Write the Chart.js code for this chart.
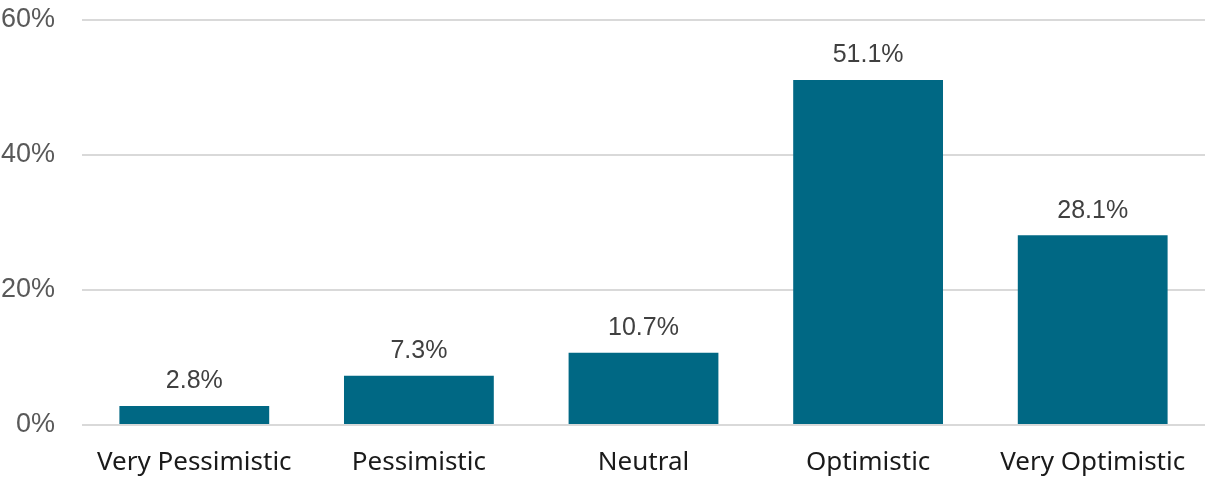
<!DOCTYPE html>
<html>
<head>
<meta charset="utf-8">
<script src="https://cdn.jsdelivr.net/npm/chart.js@4"></script>
<style>
  body { margin: 0; background: #fff; }
  #wrap { width: 1205px; height: 477px; position: relative; }
</style>
</head>
<body>
<div id="wrap"><canvas id="myChart"></canvas></div>
<script>
/* categories and values */
const labels = ['Very Pessimistic', 'Pessimistic', 'Neutral', 'Optimistic', 'Very Optimistic'];
const values = [2.8, 7.3, 10.7, 51.1, 28.1];
const yTicks = [0, 20, 40, 60];

// value labels above the bars
const barLabels = {
  id: 'barLabels',
  afterDatasetsDraw(chart) {
    const ctx = chart.ctx;
    const meta = chart.getDatasetMeta(0);
    ctx.save();
    ctx.font = '25px "Liberation Sans", Arial, sans-serif';
    ctx.fillStyle = '#404040';
    ctx.textAlign = 'center';
    ctx.textBaseline = 'bottom';
    meta.data.forEach((bar, i) => {
      ctx.fillText(values[i].toFixed(1) + '%', bar.x, bar.y - 12);
    });
    ctx.restore();
  }
};

const data1 = {
  labels: labels,
  datasets: [{
    data: values,
    backgroundColor: '#006884',
    borderWidth: 0,
    barPercentage: 0.667,
    categoryPercentage: 1
  }]
};

const config1 = {
  type: 'bar',
  data: data1,
  options: {
    responsive: true,
    maintainAspectRatio: false,
    animation: false,
    layout: { padding: { top: 20, right: 0, left: 0, bottom: 0 } },
    plugins: { legend: { display: false }, tooltip: { enabled: false } },
    scales: {
      x: {
        grid: { display: false, drawTicks: false },
        border: { display: false },
        ticks: {
          color: '#1a1a1a',
          padding: 22,
          maxRotation: 0,
          autoSkip: false,
          font: { family: '"Noto Sans", sans-serif', size: 26 }
        },
        afterFit(scale) { scale.height = 52; scale.paddingLeft = 0; scale.paddingRight = 0; }
      },
      y: {
        min: 0,
        max: 60,
        afterBuildTicks(scale) { scale.ticks = yTicks.map(v => ({ value: v })); },
        grid: { color: '#d9d9d9', lineWidth: 2, drawTicks: false },
        border: { display: false },
        ticks: {
          color: '#595959',
          padding: 27,
          font: { family: '"Liberation Sans", Arial, sans-serif', size: 27 },
          callback: v => v + '%'
        },
        afterFit(scale) { scale.width = 82; scale.paddingTop = 0; scale.paddingBottom = 0; }
      }
    }
  },
  plugins: [barLabels]
};

const myChart1 = new Chart(document.getElementById('myChart'), config1);
</script>
</body>
</html>
